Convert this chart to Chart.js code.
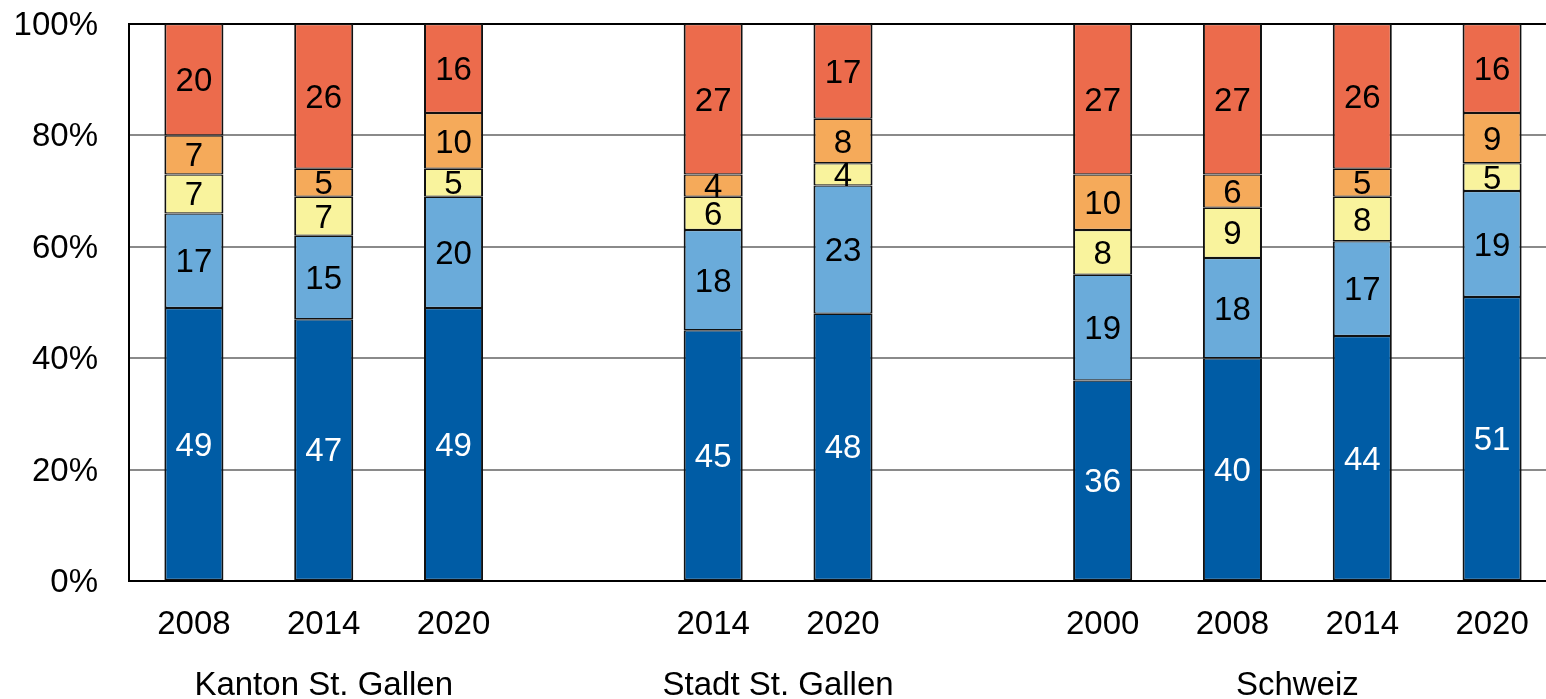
<!DOCTYPE html>
<html>
<head>
<meta charset="utf-8">
<script src="https://cdn.jsdelivr.net/npm/chart.js@4/dist/chart.umd.min.js"></script>
<style>
  html, body { margin: 0; padding: 0; background: #fff; overflow: hidden; }
  #wrap { width: 1557px; height: 699px; }
</style>
</head>
<body>
<div id="wrap"><canvas id="c" width="1557" height="699"></canvas></div>
<script>
// Categories (empty strings are spacer slots between groups)
const categories = ['2008', '2014', '2020', '', '2014', '2020', '', '2000', '2008', '2014', '2020'];
// Group labels and the category index range each one spans
const groupLabels = ['Kanton St. Gallen', 'Stadt St. Gallen', 'Schweiz'];
const groupRanges = [[0, 2], [4, 5], [7, 10]];
// Series values (percent), bottom to top
const series1 = [49, 47, 49, null, 45, 48, null, 36, 40, 44, 51];
const series2 = [17, 15, 20, null, 18, 23, null, 19, 18, 17, 19];
const series3 = [7, 7, 5, null, 6, 4, null, 8, 9, 8, 5];
const series4 = [7, 5, 10, null, 4, 8, null, 10, 6, 5, 9];
const series5 = [20, 26, 16, null, 27, 17, null, 27, 27, 26, 16];
// Y tick values
const yTicks = [0, 20, 40, 60, 80, 100];

const colors = ['#005CA5', '#6AABDA', '#F9F39D', '#F5AA5A', '#EC6B4C'];
const labelColors = ['#fff', '#000', '#000', '#000', '#000'];
const FONT = "'Liberation Sans', Arial, sans-serif";
Chart.defaults.font.family = FONT;
Chart.defaults.font.size = 33;
Chart.defaults.color = '#000';

const allSeries = [series1, series2, series3, series4, series5];
const datasets = allSeries.map((d, i) => ({
  label: 'Serie ' + (i + 1),
  data: d,
  backgroundColor: colors[i],
  borderColor: '#111',
  borderWidth: { left: 2, right: 2, top: 1.25, bottom: 1.25 },
  borderSkipped: false,
  barPercentage: 0.455,
  categoryPercentage: 1.0
}));

const valueLabels = {
  id: 'valueLabels',
  afterDatasetsDraw(chart) {
    const ctx = chart.ctx;
    ctx.save();
    ctx.font = '33px ' + FONT;
    ctx.textAlign = 'center';
    ctx.textBaseline = 'middle';
    chart.data.datasets.forEach((ds, di) => {
      const meta = chart.getDatasetMeta(di);
      meta.data.forEach((el, i) => {
        const v = ds.data[i];
        if (v === null || v === undefined) return;
        ctx.fillStyle = labelColors[di];
        ctx.fillText(String(v), el.x, (el.y + el.base) / 2 + 2.5);
      });
    });
    ctx.restore();
  }
};

const groupAxisLabels = {
  id: 'groupAxisLabels',
  afterDraw(chart) {
    const ctx = chart.ctx;
    const xs = chart.scales.x;
    ctx.save();
    ctx.font = '33px ' + FONT;
    ctx.fillStyle = '#000';
    ctx.textAlign = 'center';
    ctx.textBaseline = 'middle';
    groupLabels.forEach((g, i) => {
      const [a, b] = groupRanges[i];
      const x = (xs.getPixelForValue(a) + xs.getPixelForValue(b)) / 2;
      ctx.fillText(g, x, 686);
    });
    ctx.restore();
  }
};

new Chart(document.getElementById('c'), {
  type: 'bar',
  data: { labels: categories, datasets },
  options: {
    responsive: false,
    animation: false,
    devicePixelRatio: 1,
    layout: { padding: { top: 24, right: 0, left: 0, bottom: 0 } },
    plugins: { legend: { display: false }, tooltip: { enabled: false } },
    scales: {
      x: {
        stacked: true,
        grid: { display: false, drawTicks: false },
        border: { display: true, color: '#000', width: 2 },
        ticks: { padding: 24, maxRotation: 0, autoSkip: false, font: { size: 33 } },
        afterFit(s) { s.height = 118; }
      },
      y: {
        stacked: true,
        min: 0, max: 100,
        afterBuildTicks(s) { s.ticks = yTicks.map(v => ({ value: v })); },
        grid: {
          drawTicks: false,
          color: c => (c.tick && c.tick.value === 100) ? '#000' : '#8a8a8a',
          lineWidth: 2
        },
        border: { display: true, color: '#000', width: 2 },
        ticks: { padding: 31, labelOffset: 2, callback: v => v + '%', font: { size: 33 } },
        afterFit(s) { s.width = 129; s.paddingTop = 0; s.paddingBottom = 0; }
      }
    }
  },
  plugins: [valueLabels, groupAxisLabels]
});
</script>
</body>
</html>
